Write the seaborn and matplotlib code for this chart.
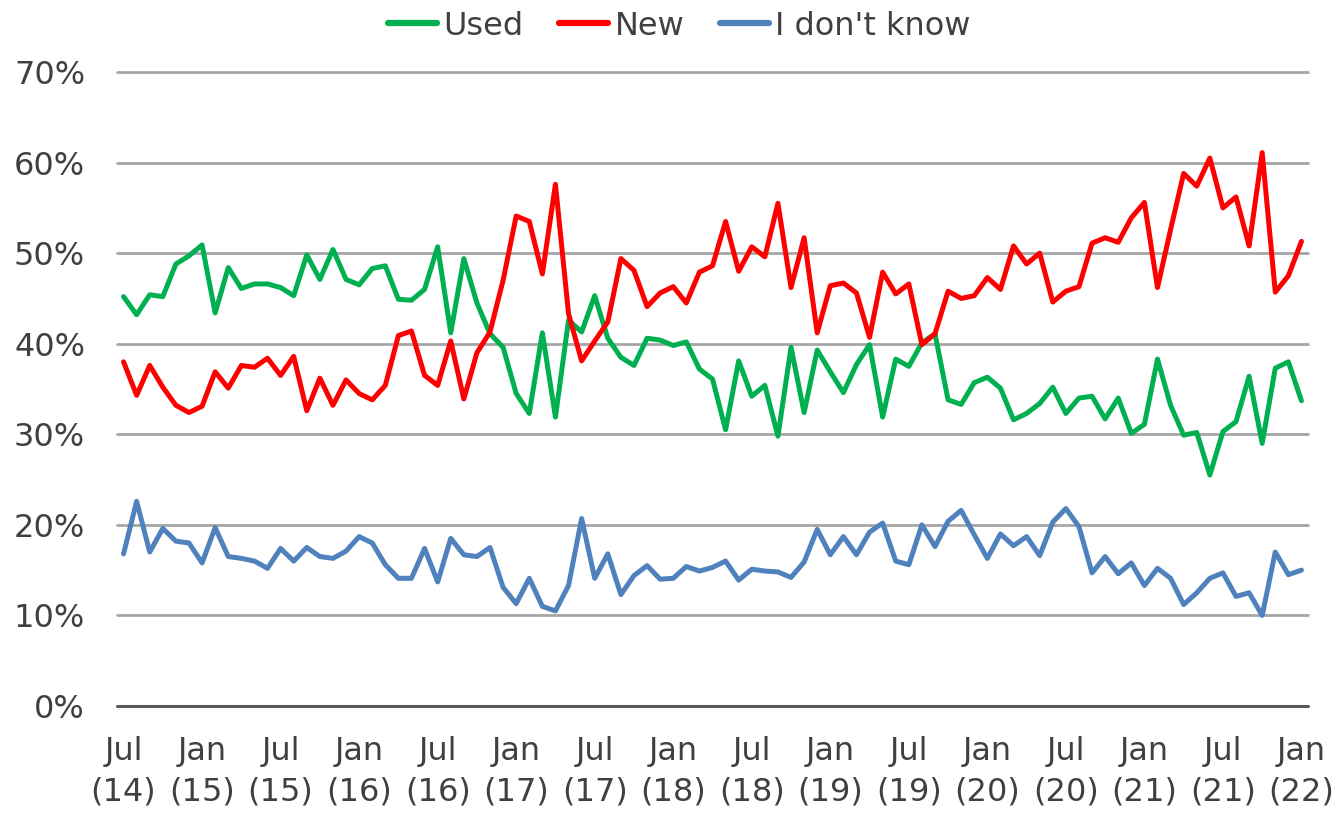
import pandas as pd
import matplotlib
matplotlib.use("Agg")
import matplotlib.pyplot as plt
import seaborn as sns

# Monthly shares, Jul 2014 .. Jan 2022 (percent)
used = [45.2, 43.2, 45.4, 45.2, 48.8, 49.7, 50.9, 43.4, 48.4, 46.1, 46.6, 46.6, 46.2, 45.3, 49.8, 47.1, 50.4, 47.1, 46.5, 48.3, 48.6, 44.9, 44.8,
        46.0, 50.7, 41.2, 49.4, 44.5, 41.1, 39.6, 34.5, 32.3, 41.2, 31.9, 42.6, 41.3, 45.3, 40.6, 38.5, 37.6, 40.6, 40.4, 39.8, 40.2, 37.2, 36.1,
        30.5, 38.1, 34.2, 35.4, 29.8, 39.6, 32.4, 39.3, 36.9, 34.6, 37.7, 39.9, 31.9, 38.3, 37.5, 40.1, 41.1, 33.8, 33.3, 35.7, 36.3, 35.1, 31.6,
        32.3, 33.4, 35.2, 32.3, 34.0, 34.2, 31.7, 34.0, 30.1, 31.1, 38.3, 33.2, 29.9, 30.2, 25.5, 30.3, 31.4, 36.4, 29.0, 37.3, 38.0, 33.7]
new = [38.0, 34.3, 37.6, 35.2, 33.2, 32.4, 33.1, 36.9, 35.1, 37.6, 37.4, 38.4, 36.5, 38.6, 32.6, 36.2, 33.2, 36.0, 34.5, 33.8, 35.4, 40.9, 41.4,
       36.5, 35.4, 40.3, 33.9, 39.0, 41.3, 47.0, 54.1, 53.5, 47.7, 57.6, 43.3, 38.1, 40.3, 42.4, 49.4, 48.1, 44.1, 45.6, 46.3, 44.5, 47.9, 48.6,
       53.5, 48.0, 50.7, 49.6, 55.5, 46.2, 51.7, 41.2, 46.4, 46.7, 45.6, 40.7, 47.9, 45.5, 46.6, 39.9, 41.1, 45.8, 45.0, 45.3, 47.3, 46.0, 50.8,
       48.8, 50.0, 44.6, 45.8, 46.3, 51.1, 51.7, 51.2, 53.9, 55.6, 46.2, 52.6, 58.8, 57.4, 60.5, 55.0, 56.2, 50.8, 61.1, 45.7, 47.5, 51.3]
dont_know = [16.8, 22.6, 17.0, 19.6, 18.2, 18.0, 15.8, 19.7, 16.5, 16.3, 16.0, 15.2, 17.4, 16.0, 17.5, 16.5, 16.3, 17.1, 18.7, 18.0, 15.6, 14.1, 14.1,
             17.4, 13.7, 18.5, 16.7, 16.5, 17.5, 13.1, 11.3, 14.1, 11.0, 10.5, 13.3, 20.7, 14.1, 16.8, 12.3, 14.4, 15.5, 14.0, 14.1, 15.4, 14.9, 15.3,
             16.0, 13.9, 15.1, 14.9, 14.8, 14.2, 15.9, 19.5, 16.7, 18.7, 16.7, 19.2, 20.2, 16.0, 15.6, 20.0, 17.6, 20.4, 21.6, 18.9, 16.3, 19.0, 17.7,
             18.7, 16.6, 20.3, 21.8, 19.8, 14.7, 16.5, 14.6, 15.8, 13.3, 15.2, 14.1, 11.2, 12.5, 14.1, 14.7, 12.1, 12.5, 10.0, 17.0, 14.5, 15.0]

series_names = ["Used", "New", "I don't know"]
colors = ["#00B050", "#FF0000", "#4F81BD"]
tick_labels = ["Jul\n(14)", "Jan\n(15)", "Jul\n(15)", "Jan\n(16)", "Jul\n(16)", "Jan\n(17)", "Jul\n(17)", "Jan\n(18)",
               "Jul\n(18)", "Jan\n(19)", "Jul\n(19)", "Jan\n(20)", "Jul\n(20)", "Jan\n(21)", "Jul\n(21)", "Jan\n(22)"]
y_ticks = [0, 10, 20, 30, 40, 50, 60, 70]

# long-form table for seaborn
frames = []
for name, vals in zip(series_names, [used, new, dont_know]):
    frames.append(pd.DataFrame({"month": range(len(vals)), "share": vals, "answer": name}))
df = pd.concat(frames, ignore_index=True)

sns.set_style("white")
plt.rcParams['font.family'] = ['DejaVu Sans']
text_color = "#404040"
fs = 23

fig = plt.figure(figsize=(13.37, 8.14), dpi=100)
ax = fig.add_axes([117 / 1337, 1 - 706 / 814, (1308 - 117) / 1337, (706 - 72) / 814])

sns.lineplot(data=df, x="month", y="share", hue="answer", palette=colors,
             hue_order=series_names, linewidth=3.6, ax=ax, legend=False)

ax.set_xlim(-0.5, len(used) - 0.5)
ax.set_ylim(0, 70)
ax.set_yticks(y_ticks)
ax.set_yticklabels([f"{v}%" for v in y_ticks], fontsize=fs, color=text_color)
ax.set_xticks(range(0, len(used), 6))
ax.set_xticklabels(tick_labels, fontsize=fs, color=text_color, linespacing=1.42)
ax.tick_params(axis="both", length=0)
ax.tick_params(axis="y", pad=23)
ax.tick_params(axis="x", pad=21.5)
ax.set_xlabel("")
ax.set_ylabel("")

for v in y_ticks[1:]:
    ax.axhline(v, color="#A6A6A6", linewidth=2, zorder=0, clip_on=False)
ax.axhline(0, color="#595959", linewidth=2.2, zorder=0, clip_on=False)
for s in ax.spines.values():
    s.set_visible(False)

handles = [plt.Line2D([0], [0], color=c, linewidth=4.5) for c in colors]
fig.legend(handles, series_names, loc="center", bbox_to_anchor=(0.508, 0.968), ncol=3,
           frameon=False, fontsize=fs, handlelength=1.55, handletextpad=0.2,
           columnspacing=1.1, labelcolor=text_color)

fig.savefig("out.png", dpi=100)
plt.close(fig)
